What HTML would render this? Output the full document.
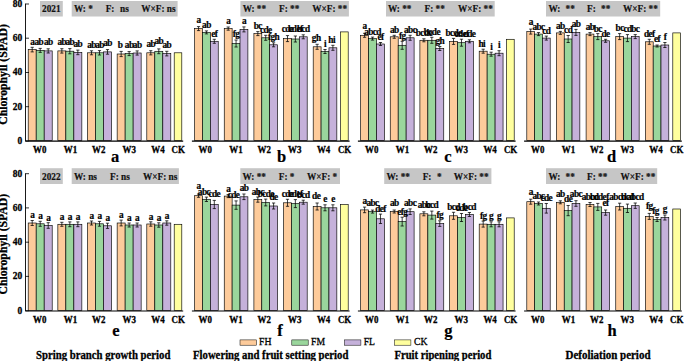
<!DOCTYPE html>
<html><head><meta charset="utf-8"><title>Chlorophyll SPAD</title>
<style>html,body{margin:0;padding:0;background:#fff;}body{width:685px;height:361px;position:relative;overflow:hidden;font-family:"Liberation Serif",serif;}</style></head>
<body>
<svg width="685" height="361" viewBox="0 0 685 361" style="position:absolute;left:0;top:0" font-family="'Liberation Serif', serif">
<rect x="0" y="0" width="685" height="361" fill="#ffffff"/>
<rect x="40.0" y="1.0" width="22.8" height="15.5" fill="#c6c6c6"/>
<text transform="translate(42.00 12.25) scale(0.9 1)" font-size="10.3" font-weight="bold" text-anchor="start" fill="#111" stroke="#111" stroke-width="0.2">2021</text>
<rect x="71.7" y="1.0" width="105.9" height="15.5" fill="#c6c6c6"/>
<text transform="translate(74.00 12.25) scale(0.9 1)" font-size="10.3" font-weight="bold" text-anchor="start" fill="#111" stroke="#111" stroke-width="0.2">W: *</text>
<text transform="translate(105.70 12.25) scale(0.9 1)" font-size="10.3" font-weight="bold" text-anchor="start" fill="#111" stroke="#111" stroke-width="0.2">F:</text>
<text transform="translate(120.00 12.25) scale(0.9 1)" font-size="10.3" font-weight="bold" text-anchor="start" fill="#111" stroke="#111" stroke-width="0.2">ns</text>
<text transform="translate(141.20 12.25) scale(0.9 1)" font-size="10.3" font-weight="bold" text-anchor="start" fill="#111" stroke="#111" stroke-width="0.2">W×F: ns</text>
<rect x="28.20" y="49.6" width="8.00" height="91.0" fill="#FDCB9B" stroke="#000" stroke-width="0.65"/>
<rect x="36.20" y="50.4" width="8.00" height="90.2" fill="#9AD69C" stroke="#000" stroke-width="0.65"/>
<rect x="44.20" y="50.9" width="8.00" height="89.7" fill="#C5B1DA" stroke="#000" stroke-width="0.65"/>
<rect x="57.85" y="50.9" width="8.00" height="89.7" fill="#FDCB9B" stroke="#000" stroke-width="0.65"/>
<rect x="65.85" y="51.2" width="8.00" height="89.4" fill="#9AD69C" stroke="#000" stroke-width="0.65"/>
<rect x="73.85" y="52.4" width="8.00" height="88.2" fill="#C5B1DA" stroke="#000" stroke-width="0.65"/>
<rect x="87.50" y="52.8" width="8.00" height="87.8" fill="#FDCB9B" stroke="#000" stroke-width="0.65"/>
<rect x="95.50" y="52.8" width="8.00" height="87.8" fill="#9AD69C" stroke="#000" stroke-width="0.65"/>
<rect x="103.50" y="51.9" width="8.00" height="88.7" fill="#C5B1DA" stroke="#000" stroke-width="0.65"/>
<rect x="117.15" y="54.0" width="8.00" height="86.6" fill="#FDCB9B" stroke="#000" stroke-width="0.65"/>
<rect x="125.15" y="53.6" width="8.00" height="87.0" fill="#9AD69C" stroke="#000" stroke-width="0.65"/>
<rect x="133.15" y="53.0" width="8.00" height="87.6" fill="#C5B1DA" stroke="#000" stroke-width="0.65"/>
<rect x="146.80" y="52.8" width="8.00" height="87.8" fill="#FDCB9B" stroke="#000" stroke-width="0.65"/>
<rect x="154.80" y="51.3" width="8.00" height="89.3" fill="#9AD69C" stroke="#000" stroke-width="0.65"/>
<rect x="162.80" y="53.6" width="8.00" height="87.0" fill="#C5B1DA" stroke="#000" stroke-width="0.65"/>
<rect x="174.20" y="52.8" width="7.60" height="87.8" fill="#FFFF9E" stroke="#000" stroke-width="0.65"/>
<path d="M32.20 47.3V51.9M30.60 47.3H33.80M30.60 51.9H33.80" stroke="#000" stroke-width="0.75" fill="none"/>
<text transform="translate(32.20 44.60) scale(1.0 1)" font-size="9.3" font-weight="bold" text-anchor="middle" fill="#000" letter-spacing="-0.6" stroke="#000" stroke-width="0.2">a</text>
<path d="M40.20 48.4V52.4M38.60 48.4H41.80M38.60 52.4H41.80" stroke="#000" stroke-width="0.75" fill="none"/>
<text transform="translate(38.70 44.60) scale(1.0 1)" font-size="9.3" font-weight="bold" text-anchor="middle" fill="#000" letter-spacing="-0.6" stroke="#000" stroke-width="0.2">ab</text>
<path d="M48.20 48.8V53.0M46.60 48.8H49.80M46.60 53.0H49.80" stroke="#000" stroke-width="0.75" fill="none"/>
<text transform="translate(48.20 44.60) scale(1.0 1)" font-size="9.3" font-weight="bold" text-anchor="middle" fill="#000" letter-spacing="-0.6" stroke="#000" stroke-width="0.2">ab</text>
<path d="M61.85 48.7V53.1M60.25 48.7H63.45M60.25 53.1H63.45" stroke="#000" stroke-width="0.75" fill="none"/>
<text transform="translate(61.85 45.40) scale(1.0 1)" font-size="9.3" font-weight="bold" text-anchor="middle" fill="#000" letter-spacing="-0.6" stroke="#000" stroke-width="0.2">ab</text>
<path d="M69.85 48.6V53.8M68.25 48.6H71.45M68.25 53.8H71.45" stroke="#000" stroke-width="0.75" fill="none"/>
<text transform="translate(69.85 45.40) scale(1.0 1)" font-size="9.3" font-weight="bold" text-anchor="middle" fill="#000" letter-spacing="-0.6" stroke="#000" stroke-width="0.2">ab</text>
<path d="M77.85 50.1V54.7M76.25 50.1H79.45M76.25 54.7H79.45" stroke="#000" stroke-width="0.75" fill="none"/>
<text transform="translate(77.85 47.00) scale(1.0 1)" font-size="9.3" font-weight="bold" text-anchor="middle" fill="#000" letter-spacing="-0.6" stroke="#000" stroke-width="0.2">ab</text>
<path d="M91.50 50.8V54.8M89.90 50.8H93.10M89.90 54.8H93.10" stroke="#000" stroke-width="0.75" fill="none"/>
<text transform="translate(91.50 47.80) scale(1.0 1)" font-size="9.3" font-weight="bold" text-anchor="middle" fill="#000" letter-spacing="-0.6" stroke="#000" stroke-width="0.2">ab</text>
<path d="M99.50 50.6V55.0M97.90 50.6H101.10M97.90 55.0H101.10" stroke="#000" stroke-width="0.75" fill="none"/>
<text transform="translate(99.50 47.80) scale(1.0 1)" font-size="9.3" font-weight="bold" text-anchor="middle" fill="#000" letter-spacing="-0.6" stroke="#000" stroke-width="0.2">ab</text>
<path d="M107.50 49.6V54.2M105.90 49.6H109.10M105.90 54.2H109.10" stroke="#000" stroke-width="0.75" fill="none"/>
<text transform="translate(107.50 46.00) scale(1.0 1)" font-size="9.3" font-weight="bold" text-anchor="middle" fill="#000" letter-spacing="-0.6" stroke="#000" stroke-width="0.2">ab</text>
<path d="M121.15 51.4V56.6M119.55 51.4H122.75M119.55 56.6H122.75" stroke="#000" stroke-width="0.75" fill="none"/>
<text transform="translate(120.15 47.80) scale(1.0 1)" font-size="9.3" font-weight="bold" text-anchor="middle" fill="#000" letter-spacing="-0.6" stroke="#000" stroke-width="0.2">b</text>
<path d="M129.15 51.6V55.6M127.55 51.6H130.75M127.55 55.6H130.75" stroke="#000" stroke-width="0.75" fill="none"/>
<text transform="translate(129.15 47.80) scale(1.0 1)" font-size="9.3" font-weight="bold" text-anchor="middle" fill="#000" letter-spacing="-0.6" stroke="#000" stroke-width="0.2">ab</text>
<path d="M137.15 50.9V55.1M135.55 50.9H138.75M135.55 55.1H138.75" stroke="#000" stroke-width="0.75" fill="none"/>
<text transform="translate(137.15 47.80) scale(1.0 1)" font-size="9.3" font-weight="bold" text-anchor="middle" fill="#000" letter-spacing="-0.6" stroke="#000" stroke-width="0.2">ab</text>
<path d="M150.80 50.7V54.9M149.20 50.7H152.40M149.20 54.9H152.40" stroke="#000" stroke-width="0.75" fill="none"/>
<text transform="translate(150.80 47.20) scale(1.0 1)" font-size="9.3" font-weight="bold" text-anchor="middle" fill="#000" letter-spacing="-0.6" stroke="#000" stroke-width="0.2">ab</text>
<path d="M158.80 48.9V53.7M157.20 48.9H160.40M157.20 53.7H160.40" stroke="#000" stroke-width="0.75" fill="none"/>
<text transform="translate(158.80 44.30) scale(1.0 1)" font-size="9.3" font-weight="bold" text-anchor="middle" fill="#000" letter-spacing="-0.6" stroke="#000" stroke-width="0.2">ab</text>
<path d="M166.80 51.3V55.9M165.20 51.3H168.40M165.20 55.9H168.40" stroke="#000" stroke-width="0.75" fill="none"/>
<text transform="translate(166.80 47.80) scale(1.0 1)" font-size="9.3" font-weight="bold" text-anchor="middle" fill="#000" letter-spacing="-0.6" stroke="#000" stroke-width="0.2">ab</text>
<line x1="25.5" y1="141.1" x2="183.2" y2="141.1" stroke="#000" stroke-width="1.05"/>
<text transform="translate(39.75 152.70) scale(0.91 1)" font-size="9.8" font-weight="bold" text-anchor="middle" fill="#000" stroke="#000" stroke-width="0.3">W0</text>
<text transform="translate(70.40 152.70) scale(0.91 1)" font-size="9.8" font-weight="bold" text-anchor="middle" fill="#000" stroke="#000" stroke-width="0.3">W1</text>
<text transform="translate(98.70 152.70) scale(0.91 1)" font-size="9.8" font-weight="bold" text-anchor="middle" fill="#000" stroke="#000" stroke-width="0.3">W2</text>
<text transform="translate(129.25 152.70) scale(0.91 1)" font-size="9.8" font-weight="bold" text-anchor="middle" fill="#000" stroke="#000" stroke-width="0.3">W3</text>
<text transform="translate(158.05 152.70) scale(0.91 1)" font-size="9.8" font-weight="bold" text-anchor="middle" fill="#000" stroke="#000" stroke-width="0.3">W4</text>
<text transform="translate(178.20 152.70) scale(0.91 1)" font-size="9.8" font-weight="bold" text-anchor="middle" fill="#000" stroke="#000" stroke-width="0.3">CK</text>
<text x="115.0" y="162.4" font-size="16.5" font-weight="bold" text-anchor="middle" fill="#000" stroke="#000" stroke-width="0.2">a</text>
<rect x="240.4" y="1.0" width="108.5" height="15.5" fill="#c6c6c6"/>
<text transform="translate(242.70 12.25) scale(0.9 1)" font-size="10.3" font-weight="bold" text-anchor="start" fill="#111" stroke="#111" stroke-width="0.2">W: **</text>
<text transform="translate(279.00 12.25) scale(0.9 1)" font-size="10.3" font-weight="bold" text-anchor="start" fill="#111" stroke="#111" stroke-width="0.2">F: **</text>
<text transform="translate(312.20 12.25) scale(0.9 1)" font-size="10.3" font-weight="bold" text-anchor="start" fill="#111" stroke="#111" stroke-width="0.2">W×F: **</text>
<rect x="194.60" y="28.6" width="7.88" height="112.0" fill="#FDCB9B" stroke="#000" stroke-width="0.65"/>
<rect x="202.48" y="32.4" width="7.88" height="108.2" fill="#9AD69C" stroke="#000" stroke-width="0.65"/>
<rect x="210.36" y="41.3" width="7.88" height="99.3" fill="#C5B1DA" stroke="#000" stroke-width="0.65"/>
<rect x="224.25" y="28.6" width="7.88" height="112.0" fill="#FDCB9B" stroke="#000" stroke-width="0.65"/>
<rect x="232.13" y="43.5" width="7.88" height="97.1" fill="#9AD69C" stroke="#000" stroke-width="0.65"/>
<rect x="240.01" y="29.4" width="7.88" height="111.2" fill="#C5B1DA" stroke="#000" stroke-width="0.65"/>
<rect x="253.90" y="33.6" width="7.88" height="107.0" fill="#FDCB9B" stroke="#000" stroke-width="0.65"/>
<rect x="261.78" y="37.8" width="7.88" height="102.8" fill="#9AD69C" stroke="#000" stroke-width="0.65"/>
<rect x="269.66" y="44.8" width="7.88" height="95.8" fill="#C5B1DA" stroke="#000" stroke-width="0.65"/>
<rect x="283.55" y="38.6" width="7.88" height="102.0" fill="#FDCB9B" stroke="#000" stroke-width="0.65"/>
<rect x="291.43" y="39.0" width="7.88" height="101.6" fill="#9AD69C" stroke="#000" stroke-width="0.65"/>
<rect x="299.31" y="36.8" width="7.88" height="103.8" fill="#C5B1DA" stroke="#000" stroke-width="0.65"/>
<rect x="313.20" y="46.8" width="7.88" height="93.8" fill="#FDCB9B" stroke="#000" stroke-width="0.65"/>
<rect x="321.08" y="51.5" width="7.88" height="89.1" fill="#9AD69C" stroke="#000" stroke-width="0.65"/>
<rect x="328.96" y="47.8" width="7.88" height="92.8" fill="#C5B1DA" stroke="#000" stroke-width="0.65"/>
<rect x="340.60" y="31.9" width="7.60" height="108.7" fill="#FFFF9E" stroke="#000" stroke-width="0.65"/>
<path d="M198.54 26.6V30.6M196.94 26.6H200.14M196.94 30.6H200.14" stroke="#000" stroke-width="0.75" fill="none"/>
<text transform="translate(198.54 22.80) scale(1.0 1)" font-size="9.3" font-weight="bold" text-anchor="middle" fill="#000" letter-spacing="-0.6" stroke="#000" stroke-width="0.2">a</text>
<path d="M206.42 30.9V33.9M204.82 30.9H208.02M204.82 33.9H208.02" stroke="#000" stroke-width="0.75" fill="none"/>
<text transform="translate(206.42 28.30) scale(1.0 1)" font-size="9.3" font-weight="bold" text-anchor="middle" fill="#000" letter-spacing="-0.6" stroke="#000" stroke-width="0.2">ab</text>
<path d="M214.30 39.3V43.3M212.70 39.3H215.90M212.70 43.3H215.90" stroke="#000" stroke-width="0.75" fill="none"/>
<text transform="translate(214.30 36.70) scale(1.0 1)" font-size="9.3" font-weight="bold" text-anchor="middle" fill="#000" letter-spacing="-0.6" stroke="#000" stroke-width="0.2">ef</text>
<path d="M228.19 27.0V30.2M226.59 27.0H229.79M226.59 30.2H229.79" stroke="#000" stroke-width="0.75" fill="none"/>
<text transform="translate(228.19 24.40) scale(1.0 1)" font-size="9.3" font-weight="bold" text-anchor="middle" fill="#000" letter-spacing="-0.6" stroke="#000" stroke-width="0.2">a</text>
<path d="M236.07 40.0V47.0M234.47 40.0H237.67M234.47 47.0H237.67" stroke="#000" stroke-width="0.75" fill="none"/>
<text transform="translate(236.07 37.40) scale(1.0 1)" font-size="9.3" font-weight="bold" text-anchor="middle" fill="#000" letter-spacing="-0.6" stroke="#000" stroke-width="0.2">fg</text>
<path d="M243.95 26.9V31.9M242.35 26.9H245.55M242.35 31.9H245.55" stroke="#000" stroke-width="0.75" fill="none"/>
<text transform="translate(243.95 24.30) scale(1.0 1)" font-size="9.3" font-weight="bold" text-anchor="middle" fill="#000" letter-spacing="-0.6" stroke="#000" stroke-width="0.2">a</text>
<path d="M257.84 31.6V35.6M256.24 31.6H259.44M256.24 35.6H259.44" stroke="#000" stroke-width="0.75" fill="none"/>
<text transform="translate(257.84 29.00) scale(1.0 1)" font-size="9.3" font-weight="bold" text-anchor="middle" fill="#000" letter-spacing="-0.6" stroke="#000" stroke-width="0.2">bc</text>
<path d="M265.72 35.3V40.3M264.12 35.3H267.32M264.12 40.3H267.32" stroke="#000" stroke-width="0.75" fill="none"/>
<text transform="translate(265.72 32.70) scale(1.0 1)" font-size="9.3" font-weight="bold" text-anchor="middle" fill="#000" letter-spacing="-0.6" stroke="#000" stroke-width="0.2">cde</text>
<path d="M273.60 42.8V46.8M272.00 42.8H275.20M272.00 46.8H275.20" stroke="#000" stroke-width="0.75" fill="none"/>
<text transform="translate(273.60 40.20) scale(1.0 1)" font-size="9.3" font-weight="bold" text-anchor="middle" fill="#000" letter-spacing="-0.6" stroke="#000" stroke-width="0.2">fgh</text>
<path d="M287.49 35.6V41.6M285.89 35.6H289.09M285.89 41.6H289.09" stroke="#000" stroke-width="0.75" fill="none"/>
<text transform="translate(287.49 31.50) scale(1.0 1)" font-size="9.3" font-weight="bold" text-anchor="middle" fill="#000" letter-spacing="-0.6" stroke="#000" stroke-width="0.2">cde</text>
<path d="M295.37 36.0V42.0M293.77 36.0H296.97M293.77 42.0H296.97" stroke="#000" stroke-width="0.75" fill="none"/>
<text transform="translate(295.37 31.50) scale(1.0 1)" font-size="9.3" font-weight="bold" text-anchor="middle" fill="#000" letter-spacing="-0.6" stroke="#000" stroke-width="0.2">cdef</text>
<path d="M303.25 34.8V38.8M301.65 34.8H304.85M301.65 38.8H304.85" stroke="#000" stroke-width="0.75" fill="none"/>
<text transform="translate(303.25 31.50) scale(1.0 1)" font-size="9.3" font-weight="bold" text-anchor="middle" fill="#000" letter-spacing="-0.6" stroke="#000" stroke-width="0.2">bcd</text>
<path d="M317.14 44.3V49.3M315.54 44.3H318.74M315.54 49.3H318.74" stroke="#000" stroke-width="0.75" fill="none"/>
<text transform="translate(316.14 40.50) scale(1.0 1)" font-size="9.3" font-weight="bold" text-anchor="middle" fill="#000" letter-spacing="-0.6" stroke="#000" stroke-width="0.2">gh</text>
<path d="M325.02 49.5V53.5M323.42 49.5H326.62M323.42 53.5H326.62" stroke="#000" stroke-width="0.75" fill="none"/>
<text transform="translate(325.02 46.90) scale(1.0 1)" font-size="9.3" font-weight="bold" text-anchor="middle" fill="#000" letter-spacing="-0.6" stroke="#000" stroke-width="0.2">i</text>
<path d="M332.90 45.3V50.3M331.30 45.3H334.50M331.30 50.3H334.50" stroke="#000" stroke-width="0.75" fill="none"/>
<text transform="translate(331.60 42.70) scale(1.0 1)" font-size="9.3" font-weight="bold" text-anchor="middle" fill="#000" letter-spacing="-0.6" stroke="#000" stroke-width="0.2">hi</text>
<line x1="191.9" y1="141.1" x2="349.6" y2="141.1" stroke="#000" stroke-width="1.05"/>
<text transform="translate(205.27 152.70) scale(0.91 1)" font-size="9.8" font-weight="bold" text-anchor="middle" fill="#000" stroke="#000" stroke-width="0.3">W0</text>
<text transform="translate(235.92 152.70) scale(0.91 1)" font-size="9.8" font-weight="bold" text-anchor="middle" fill="#000" stroke="#000" stroke-width="0.3">W1</text>
<text transform="translate(264.22 152.70) scale(0.91 1)" font-size="9.8" font-weight="bold" text-anchor="middle" fill="#000" stroke="#000" stroke-width="0.3">W2</text>
<text transform="translate(294.77 152.70) scale(0.91 1)" font-size="9.8" font-weight="bold" text-anchor="middle" fill="#000" stroke="#000" stroke-width="0.3">W3</text>
<text transform="translate(323.57 152.70) scale(0.91 1)" font-size="9.8" font-weight="bold" text-anchor="middle" fill="#000" stroke="#000" stroke-width="0.3">W4</text>
<text transform="translate(344.60 152.70) scale(0.91 1)" font-size="9.8" font-weight="bold" text-anchor="middle" fill="#000" stroke="#000" stroke-width="0.3">CK</text>
<text x="281.6" y="162.4" font-size="16.5" font-weight="bold" text-anchor="middle" fill="#000" stroke="#000" stroke-width="0.2">b</text>
<rect x="386.0" y="1.0" width="108.7" height="15.5" fill="#c6c6c6"/>
<text transform="translate(388.00 12.25) scale(0.9 1)" font-size="10.3" font-weight="bold" text-anchor="start" fill="#111" stroke="#111" stroke-width="0.2">W: **</text>
<text transform="translate(424.50 12.25) scale(0.9 1)" font-size="10.3" font-weight="bold" text-anchor="start" fill="#111" stroke="#111" stroke-width="0.2">F: **</text>
<text transform="translate(458.00 12.25) scale(0.9 1)" font-size="10.3" font-weight="bold" text-anchor="start" fill="#111" stroke="#111" stroke-width="0.2">W×F: **</text>
<rect x="360.60" y="35.3" width="7.95" height="105.3" fill="#FDCB9B" stroke="#000" stroke-width="0.65"/>
<rect x="368.55" y="38.6" width="7.95" height="102.0" fill="#9AD69C" stroke="#000" stroke-width="0.65"/>
<rect x="376.50" y="44.0" width="7.95" height="96.6" fill="#C5B1DA" stroke="#000" stroke-width="0.65"/>
<rect x="390.25" y="36.8" width="7.95" height="103.8" fill="#FDCB9B" stroke="#000" stroke-width="0.65"/>
<rect x="398.20" y="45.3" width="7.95" height="95.3" fill="#9AD69C" stroke="#000" stroke-width="0.65"/>
<rect x="406.15" y="37.8" width="7.95" height="102.8" fill="#C5B1DA" stroke="#000" stroke-width="0.65"/>
<rect x="419.90" y="40.3" width="7.95" height="100.3" fill="#FDCB9B" stroke="#000" stroke-width="0.65"/>
<rect x="427.85" y="40.3" width="7.95" height="100.3" fill="#9AD69C" stroke="#000" stroke-width="0.65"/>
<rect x="435.80" y="48.5" width="7.95" height="92.1" fill="#C5B1DA" stroke="#000" stroke-width="0.65"/>
<rect x="449.55" y="41.4" width="7.95" height="99.2" fill="#FDCB9B" stroke="#000" stroke-width="0.65"/>
<rect x="457.50" y="42.7" width="7.95" height="97.9" fill="#9AD69C" stroke="#000" stroke-width="0.65"/>
<rect x="465.45" y="41.3" width="7.95" height="99.3" fill="#C5B1DA" stroke="#000" stroke-width="0.65"/>
<rect x="479.20" y="51.2" width="7.95" height="89.4" fill="#FDCB9B" stroke="#000" stroke-width="0.65"/>
<rect x="487.15" y="54.2" width="7.95" height="86.4" fill="#9AD69C" stroke="#000" stroke-width="0.65"/>
<rect x="495.10" y="53.2" width="7.95" height="87.4" fill="#C5B1DA" stroke="#000" stroke-width="0.65"/>
<rect x="506.60" y="39.3" width="7.60" height="101.3" fill="#FFFF9E" stroke="#000" stroke-width="0.65"/>
<path d="M364.58 33.3V37.3M362.98 33.3H366.18M362.98 37.3H366.18" stroke="#000" stroke-width="0.75" fill="none"/>
<text transform="translate(364.58 28.60) scale(1.0 1)" font-size="9.3" font-weight="bold" text-anchor="middle" fill="#000" letter-spacing="-0.6" stroke="#000" stroke-width="0.2">a</text>
<path d="M372.53 37.1V40.1M370.93 37.1H374.13M370.93 40.1H374.13" stroke="#000" stroke-width="0.75" fill="none"/>
<text transform="translate(372.53 34.50) scale(1.0 1)" font-size="9.3" font-weight="bold" text-anchor="middle" fill="#000" letter-spacing="-0.6" stroke="#000" stroke-width="0.2">abcd</text>
<path d="M380.48 42.5V45.5M378.88 42.5H382.08M378.88 45.5H382.08" stroke="#000" stroke-width="0.75" fill="none"/>
<text transform="translate(380.48 39.80) scale(1.0 1)" font-size="9.3" font-weight="bold" text-anchor="middle" fill="#000" letter-spacing="-0.6" stroke="#000" stroke-width="0.2">ef</text>
<path d="M394.23 35.3V38.3M392.62 35.3H395.83M392.62 38.3H395.83" stroke="#000" stroke-width="0.75" fill="none"/>
<text transform="translate(394.23 32.70) scale(1.0 1)" font-size="9.3" font-weight="bold" text-anchor="middle" fill="#000" letter-spacing="-0.6" stroke="#000" stroke-width="0.2">ab</text>
<path d="M402.18 41.3V49.3M400.57 41.3H403.78M400.57 49.3H403.78" stroke="#000" stroke-width="0.75" fill="none"/>
<text transform="translate(402.18 38.70) scale(1.0 1)" font-size="9.3" font-weight="bold" text-anchor="middle" fill="#000" letter-spacing="-0.6" stroke="#000" stroke-width="0.2">fg</text>
<path d="M410.12 35.3V40.3M408.52 35.3H411.73M408.52 40.3H411.73" stroke="#000" stroke-width="0.75" fill="none"/>
<text transform="translate(410.12 32.70) scale(1.0 1)" font-size="9.3" font-weight="bold" text-anchor="middle" fill="#000" letter-spacing="-0.6" stroke="#000" stroke-width="0.2">abc</text>
<path d="M423.88 38.8V41.8M422.28 38.8H425.48M422.28 41.8H425.48" stroke="#000" stroke-width="0.75" fill="none"/>
<text transform="translate(423.88 36.20) scale(1.0 1)" font-size="9.3" font-weight="bold" text-anchor="middle" fill="#000" letter-spacing="-0.6" stroke="#000" stroke-width="0.2">bcde</text>
<path d="M431.83 37.3V43.3M430.23 37.3H433.43M430.23 43.3H433.43" stroke="#000" stroke-width="0.75" fill="none"/>
<text transform="translate(431.83 34.70) scale(1.0 1)" font-size="9.3" font-weight="bold" text-anchor="middle" fill="#000" letter-spacing="-0.6" stroke="#000" stroke-width="0.2">bcde</text>
<path d="M439.78 46.5V50.5M438.18 46.5H441.38M438.18 50.5H441.38" stroke="#000" stroke-width="0.75" fill="none"/>
<text transform="translate(439.78 43.90) scale(1.0 1)" font-size="9.3" font-weight="bold" text-anchor="middle" fill="#000" letter-spacing="-0.6" stroke="#000" stroke-width="0.2">gh</text>
<path d="M453.53 38.4V44.4M451.93 38.4H455.13M451.93 44.4H455.13" stroke="#000" stroke-width="0.75" fill="none"/>
<text transform="translate(453.53 35.80) scale(1.0 1)" font-size="9.3" font-weight="bold" text-anchor="middle" fill="#000" letter-spacing="-0.6" stroke="#000" stroke-width="0.2">bcde</text>
<path d="M461.48 39.2V46.2M459.88 39.2H463.08M459.88 46.2H463.08" stroke="#000" stroke-width="0.75" fill="none"/>
<text transform="translate(461.48 36.60) scale(1.0 1)" font-size="9.3" font-weight="bold" text-anchor="middle" fill="#000" letter-spacing="-0.6" stroke="#000" stroke-width="0.2">cdef</text>
<path d="M469.43 39.8V42.8M467.82 39.8H471.03M467.82 42.8H471.03" stroke="#000" stroke-width="0.75" fill="none"/>
<text transform="translate(469.43 37.20) scale(1.0 1)" font-size="9.3" font-weight="bold" text-anchor="middle" fill="#000" letter-spacing="-0.6" stroke="#000" stroke-width="0.2">cde</text>
<path d="M483.18 49.2V53.2M481.58 49.2H484.78M481.58 53.2H484.78" stroke="#000" stroke-width="0.75" fill="none"/>
<text transform="translate(481.68 46.60) scale(1.0 1)" font-size="9.3" font-weight="bold" text-anchor="middle" fill="#000" letter-spacing="-0.6" stroke="#000" stroke-width="0.2">hi</text>
<path d="M491.13 52.2V56.2M489.53 52.2H492.73M489.53 56.2H492.73" stroke="#000" stroke-width="0.75" fill="none"/>
<text transform="translate(491.13 49.60) scale(1.0 1)" font-size="9.3" font-weight="bold" text-anchor="middle" fill="#000" letter-spacing="-0.6" stroke="#000" stroke-width="0.2">i</text>
<path d="M499.08 50.7V55.7M497.48 50.7H500.68M497.48 55.7H500.68" stroke="#000" stroke-width="0.75" fill="none"/>
<text transform="translate(499.08 48.10) scale(1.0 1)" font-size="9.3" font-weight="bold" text-anchor="middle" fill="#000" letter-spacing="-0.6" stroke="#000" stroke-width="0.2">i</text>
<line x1="357.9" y1="141.1" x2="515.6" y2="141.1" stroke="#000" stroke-width="1.05"/>
<text transform="translate(371.78 152.70) scale(0.91 1)" font-size="9.8" font-weight="bold" text-anchor="middle" fill="#000" stroke="#000" stroke-width="0.3">W0</text>
<text transform="translate(402.43 152.70) scale(0.91 1)" font-size="9.8" font-weight="bold" text-anchor="middle" fill="#000" stroke="#000" stroke-width="0.3">W1</text>
<text transform="translate(430.73 152.70) scale(0.91 1)" font-size="9.8" font-weight="bold" text-anchor="middle" fill="#000" stroke="#000" stroke-width="0.3">W2</text>
<text transform="translate(461.28 152.70) scale(0.91 1)" font-size="9.8" font-weight="bold" text-anchor="middle" fill="#000" stroke="#000" stroke-width="0.3">W3</text>
<text transform="translate(490.08 152.70) scale(0.91 1)" font-size="9.8" font-weight="bold" text-anchor="middle" fill="#000" stroke="#000" stroke-width="0.3">W4</text>
<text transform="translate(510.60 152.70) scale(0.91 1)" font-size="9.8" font-weight="bold" text-anchor="middle" fill="#000" stroke="#000" stroke-width="0.3">CK</text>
<text x="448.0" y="162.4" font-size="16.5" font-weight="bold" text-anchor="middle" fill="#000" stroke="#000" stroke-width="0.2">c</text>
<rect x="546.0" y="1.0" width="114.2" height="15.5" fill="#c6c6c6"/>
<text transform="translate(548.50 12.25) scale(0.9 1)" font-size="10.3" font-weight="bold" text-anchor="start" fill="#111" stroke="#111" stroke-width="0.2">W:</text>
<text transform="translate(565.50 12.25) scale(0.9 1)" font-size="10.3" font-weight="bold" text-anchor="start" fill="#111" stroke="#111" stroke-width="0.2">**</text>
<text transform="translate(587.00 12.25) scale(0.9 1)" font-size="10.3" font-weight="bold" text-anchor="start" fill="#111" stroke="#111" stroke-width="0.2">F:</text>
<text transform="translate(601.00 12.25) scale(0.9 1)" font-size="10.3" font-weight="bold" text-anchor="start" fill="#111" stroke="#111" stroke-width="0.2">**</text>
<text transform="translate(623.00 12.25) scale(0.9 1)" font-size="10.3" font-weight="bold" text-anchor="start" fill="#111" stroke="#111" stroke-width="0.2">W×F: **</text>
<rect x="526.80" y="31.6" width="7.80" height="109.0" fill="#FDCB9B" stroke="#000" stroke-width="0.65"/>
<rect x="534.60" y="34.1" width="7.80" height="106.5" fill="#9AD69C" stroke="#000" stroke-width="0.65"/>
<rect x="542.40" y="38.1" width="7.80" height="102.5" fill="#C5B1DA" stroke="#000" stroke-width="0.65"/>
<rect x="556.45" y="32.9" width="7.80" height="107.7" fill="#FDCB9B" stroke="#000" stroke-width="0.65"/>
<rect x="564.25" y="39.0" width="7.80" height="101.6" fill="#9AD69C" stroke="#000" stroke-width="0.65"/>
<rect x="572.05" y="32.4" width="7.80" height="108.2" fill="#C5B1DA" stroke="#000" stroke-width="0.65"/>
<rect x="586.10" y="34.1" width="7.80" height="106.5" fill="#FDCB9B" stroke="#000" stroke-width="0.65"/>
<rect x="593.90" y="36.6" width="7.80" height="104.0" fill="#9AD69C" stroke="#000" stroke-width="0.65"/>
<rect x="601.70" y="40.8" width="7.80" height="99.8" fill="#C5B1DA" stroke="#000" stroke-width="0.65"/>
<rect x="615.75" y="36.6" width="7.80" height="104.0" fill="#FDCB9B" stroke="#000" stroke-width="0.65"/>
<rect x="623.55" y="38.1" width="7.80" height="102.5" fill="#9AD69C" stroke="#000" stroke-width="0.65"/>
<rect x="631.35" y="36.6" width="7.80" height="104.0" fill="#C5B1DA" stroke="#000" stroke-width="0.65"/>
<rect x="645.40" y="41.8" width="7.80" height="98.8" fill="#FDCB9B" stroke="#000" stroke-width="0.65"/>
<rect x="653.20" y="46.0" width="7.80" height="94.6" fill="#9AD69C" stroke="#000" stroke-width="0.65"/>
<rect x="661.00" y="45.0" width="7.80" height="95.6" fill="#C5B1DA" stroke="#000" stroke-width="0.65"/>
<rect x="672.80" y="32.9" width="7.60" height="107.7" fill="#FFFF9E" stroke="#000" stroke-width="0.65"/>
<path d="M530.70 29.1V34.1M529.10 29.1H532.30M529.10 34.1H532.30" stroke="#000" stroke-width="0.75" fill="none"/>
<text transform="translate(530.70 25.40) scale(1.0 1)" font-size="9.3" font-weight="bold" text-anchor="middle" fill="#000" letter-spacing="-0.6" stroke="#000" stroke-width="0.2">a</text>
<path d="M538.50 32.6V35.6M536.90 32.6H540.10M536.90 35.6H540.10" stroke="#000" stroke-width="0.75" fill="none"/>
<text transform="translate(538.50 30.00) scale(1.0 1)" font-size="9.3" font-weight="bold" text-anchor="middle" fill="#000" letter-spacing="-0.6" stroke="#000" stroke-width="0.2">abc</text>
<path d="M546.30 36.1V40.1M544.70 36.1H547.90M544.70 40.1H547.90" stroke="#000" stroke-width="0.75" fill="none"/>
<text transform="translate(546.30 33.50) scale(1.0 1)" font-size="9.3" font-weight="bold" text-anchor="middle" fill="#000" letter-spacing="-0.6" stroke="#000" stroke-width="0.2">cd</text>
<path d="M560.35 31.4V34.4M558.75 31.4H561.95M558.75 34.4H561.95" stroke="#000" stroke-width="0.75" fill="none"/>
<text transform="translate(560.35 28.80) scale(1.0 1)" font-size="9.3" font-weight="bold" text-anchor="middle" fill="#000" letter-spacing="-0.6" stroke="#000" stroke-width="0.2">ab</text>
<path d="M568.15 35.5V42.5M566.55 35.5H569.75M566.55 42.5H569.75" stroke="#000" stroke-width="0.75" fill="none"/>
<text transform="translate(568.15 32.90) scale(1.0 1)" font-size="9.3" font-weight="bold" text-anchor="middle" fill="#000" letter-spacing="-0.6" stroke="#000" stroke-width="0.2">cd</text>
<path d="M575.95 29.4V35.4M574.35 29.4H577.55M574.35 35.4H577.55" stroke="#000" stroke-width="0.75" fill="none"/>
<text transform="translate(575.95 26.80) scale(1.0 1)" font-size="9.3" font-weight="bold" text-anchor="middle" fill="#000" letter-spacing="-0.6" stroke="#000" stroke-width="0.2">ab</text>
<path d="M590.00 32.6V35.6M588.40 32.6H591.60M588.40 35.6H591.60" stroke="#000" stroke-width="0.75" fill="none"/>
<text transform="translate(590.00 30.00) scale(1.0 1)" font-size="9.3" font-weight="bold" text-anchor="middle" fill="#000" letter-spacing="-0.6" stroke="#000" stroke-width="0.2">ab</text>
<path d="M597.80 33.6V39.6M596.20 33.6H599.40M596.20 39.6H599.40" stroke="#000" stroke-width="0.75" fill="none"/>
<text transform="translate(597.80 31.90) scale(1.0 1)" font-size="9.3" font-weight="bold" text-anchor="middle" fill="#000" letter-spacing="-0.6" stroke="#000" stroke-width="0.2">bc</text>
<path d="M605.60 39.3V42.3M604.00 39.3H607.20M604.00 42.3H607.20" stroke="#000" stroke-width="0.75" fill="none"/>
<text transform="translate(605.60 36.70) scale(1.0 1)" font-size="9.3" font-weight="bold" text-anchor="middle" fill="#000" letter-spacing="-0.6" stroke="#000" stroke-width="0.2">de</text>
<path d="M619.65 33.6V39.6M618.05 33.6H621.25M618.05 39.6H621.25" stroke="#000" stroke-width="0.75" fill="none"/>
<text transform="translate(619.65 31.00) scale(1.0 1)" font-size="9.3" font-weight="bold" text-anchor="middle" fill="#000" letter-spacing="-0.6" stroke="#000" stroke-width="0.2">bc</text>
<path d="M627.45 34.6V41.6M625.85 34.6H629.05M625.85 41.6H629.05" stroke="#000" stroke-width="0.75" fill="none"/>
<text transform="translate(627.45 32.00) scale(1.0 1)" font-size="9.3" font-weight="bold" text-anchor="middle" fill="#000" letter-spacing="-0.6" stroke="#000" stroke-width="0.2">cd</text>
<path d="M635.25 34.6V38.6M633.65 34.6H636.85M633.65 38.6H636.85" stroke="#000" stroke-width="0.75" fill="none"/>
<text transform="translate(635.25 32.00) scale(1.0 1)" font-size="9.3" font-weight="bold" text-anchor="middle" fill="#000" letter-spacing="-0.6" stroke="#000" stroke-width="0.2">bc</text>
<path d="M649.30 39.3V44.3M647.70 39.3H650.90M647.70 44.3H650.90" stroke="#000" stroke-width="0.75" fill="none"/>
<text transform="translate(649.30 36.70) scale(1.0 1)" font-size="9.3" font-weight="bold" text-anchor="middle" fill="#000" letter-spacing="-0.6" stroke="#000" stroke-width="0.2">def</text>
<path d="M657.10 45.0V47.0M655.50 45.0H658.70M655.50 47.0H658.70" stroke="#000" stroke-width="0.75" fill="none"/>
<text transform="translate(657.10 42.40) scale(1.0 1)" font-size="9.3" font-weight="bold" text-anchor="middle" fill="#000" letter-spacing="-0.6" stroke="#000" stroke-width="0.2">ef</text>
<path d="M664.90 42.5V47.5M663.30 42.5H666.50M663.30 47.5H666.50" stroke="#000" stroke-width="0.75" fill="none"/>
<text transform="translate(664.90 39.90) scale(1.0 1)" font-size="9.3" font-weight="bold" text-anchor="middle" fill="#000" letter-spacing="-0.6" stroke="#000" stroke-width="0.2">f</text>
<line x1="524.1" y1="141.1" x2="681.8" y2="141.1" stroke="#000" stroke-width="1.05"/>
<text transform="translate(537.75 152.70) scale(0.91 1)" font-size="9.8" font-weight="bold" text-anchor="middle" fill="#000" stroke="#000" stroke-width="0.3">W0</text>
<text transform="translate(568.40 152.70) scale(0.91 1)" font-size="9.8" font-weight="bold" text-anchor="middle" fill="#000" stroke="#000" stroke-width="0.3">W1</text>
<text transform="translate(596.70 152.70) scale(0.91 1)" font-size="9.8" font-weight="bold" text-anchor="middle" fill="#000" stroke="#000" stroke-width="0.3">W2</text>
<text transform="translate(627.25 152.70) scale(0.91 1)" font-size="9.8" font-weight="bold" text-anchor="middle" fill="#000" stroke="#000" stroke-width="0.3">W3</text>
<text transform="translate(656.05 152.70) scale(0.91 1)" font-size="9.8" font-weight="bold" text-anchor="middle" fill="#000" stroke="#000" stroke-width="0.3">W4</text>
<text transform="translate(676.80 152.70) scale(0.91 1)" font-size="9.8" font-weight="bold" text-anchor="middle" fill="#000" stroke="#000" stroke-width="0.3">CK</text>
<text x="611.5" y="162.4" font-size="16.5" font-weight="bold" text-anchor="middle" fill="#000" stroke="#000" stroke-width="0.2">d</text>
<rect x="40.0" y="168.2" width="22.8" height="15.8" fill="#c6c6c6"/>
<text transform="translate(42.00 179.60) scale(0.9 1)" font-size="10.3" font-weight="bold" text-anchor="start" fill="#111" stroke="#111" stroke-width="0.2">2022</text>
<rect x="71.7" y="168.2" width="107.2" height="15.8" fill="#c6c6c6"/>
<text transform="translate(74.00 179.60) scale(0.9 1)" font-size="10.3" font-weight="bold" text-anchor="start" fill="#111" stroke="#111" stroke-width="0.2">W: ns</text>
<text transform="translate(110.00 179.60) scale(0.9 1)" font-size="10.3" font-weight="bold" text-anchor="start" fill="#111" stroke="#111" stroke-width="0.2">F: ns</text>
<text transform="translate(143.00 179.60) scale(0.9 1)" font-size="10.3" font-weight="bold" text-anchor="start" fill="#111" stroke="#111" stroke-width="0.2">W×F: ns</text>
<rect x="28.20" y="223.0" width="8.00" height="87.4" fill="#FDCB9B" stroke="#000" stroke-width="0.65"/>
<rect x="36.20" y="223.8" width="8.00" height="86.6" fill="#9AD69C" stroke="#000" stroke-width="0.65"/>
<rect x="44.20" y="225.5" width="8.00" height="84.9" fill="#C5B1DA" stroke="#000" stroke-width="0.65"/>
<rect x="57.85" y="224.3" width="8.00" height="86.1" fill="#FDCB9B" stroke="#000" stroke-width="0.65"/>
<rect x="65.85" y="224.3" width="8.00" height="86.1" fill="#9AD69C" stroke="#000" stroke-width="0.65"/>
<rect x="73.85" y="224.3" width="8.00" height="86.1" fill="#C5B1DA" stroke="#000" stroke-width="0.65"/>
<rect x="87.50" y="223.0" width="8.00" height="87.4" fill="#FDCB9B" stroke="#000" stroke-width="0.65"/>
<rect x="95.50" y="223.8" width="8.00" height="86.6" fill="#9AD69C" stroke="#000" stroke-width="0.65"/>
<rect x="103.50" y="225.8" width="8.00" height="84.6" fill="#C5B1DA" stroke="#000" stroke-width="0.65"/>
<rect x="117.15" y="223.0" width="8.00" height="87.4" fill="#FDCB9B" stroke="#000" stroke-width="0.65"/>
<rect x="125.15" y="225.0" width="8.00" height="85.4" fill="#9AD69C" stroke="#000" stroke-width="0.65"/>
<rect x="133.15" y="225.0" width="8.00" height="85.4" fill="#C5B1DA" stroke="#000" stroke-width="0.65"/>
<rect x="146.80" y="224.0" width="8.00" height="86.4" fill="#FDCB9B" stroke="#000" stroke-width="0.65"/>
<rect x="154.80" y="225.0" width="8.00" height="85.4" fill="#9AD69C" stroke="#000" stroke-width="0.65"/>
<rect x="162.80" y="223.0" width="8.00" height="87.4" fill="#C5B1DA" stroke="#000" stroke-width="0.65"/>
<rect x="174.20" y="224.3" width="7.60" height="86.1" fill="#FFFF9E" stroke="#000" stroke-width="0.65"/>
<path d="M32.20 220.5V225.5M30.60 220.5H33.80M30.60 225.5H33.80" stroke="#000" stroke-width="0.75" fill="none"/>
<text transform="translate(32.20 218.40) scale(1.0 1)" font-size="9.3" font-weight="bold" text-anchor="middle" fill="#000" letter-spacing="-0.6" stroke="#000" stroke-width="0.2">a</text>
<path d="M40.20 221.3V226.3M38.60 221.3H41.80M38.60 226.3H41.80" stroke="#000" stroke-width="0.75" fill="none"/>
<text transform="translate(40.20 219.20) scale(1.0 1)" font-size="9.3" font-weight="bold" text-anchor="middle" fill="#000" letter-spacing="-0.6" stroke="#000" stroke-width="0.2">a</text>
<path d="M48.20 222.7V228.3M46.60 222.7H49.80M46.60 228.3H49.80" stroke="#000" stroke-width="0.75" fill="none"/>
<text transform="translate(48.20 220.60) scale(1.0 1)" font-size="9.3" font-weight="bold" text-anchor="middle" fill="#000" letter-spacing="-0.6" stroke="#000" stroke-width="0.2">a</text>
<path d="M61.85 222.3V226.3M60.25 222.3H63.45M60.25 226.3H63.45" stroke="#000" stroke-width="0.75" fill="none"/>
<text transform="translate(61.85 220.20) scale(1.0 1)" font-size="9.3" font-weight="bold" text-anchor="middle" fill="#000" letter-spacing="-0.6" stroke="#000" stroke-width="0.2">a</text>
<path d="M69.85 221.9V226.7M68.25 221.9H71.45M68.25 226.7H71.45" stroke="#000" stroke-width="0.75" fill="none"/>
<text transform="translate(69.85 219.80) scale(1.0 1)" font-size="9.3" font-weight="bold" text-anchor="middle" fill="#000" letter-spacing="-0.6" stroke="#000" stroke-width="0.2">a</text>
<path d="M77.85 221.9V226.7M76.25 221.9H79.45M76.25 226.7H79.45" stroke="#000" stroke-width="0.75" fill="none"/>
<text transform="translate(77.85 219.80) scale(1.0 1)" font-size="9.3" font-weight="bold" text-anchor="middle" fill="#000" letter-spacing="-0.6" stroke="#000" stroke-width="0.2">a</text>
<path d="M91.50 221.0V225.0M89.90 221.0H93.10M89.90 225.0H93.10" stroke="#000" stroke-width="0.75" fill="none"/>
<text transform="translate(91.50 218.90) scale(1.0 1)" font-size="9.3" font-weight="bold" text-anchor="middle" fill="#000" letter-spacing="-0.6" stroke="#000" stroke-width="0.2">a</text>
<path d="M99.50 221.4V226.2M97.90 221.4H101.10M97.90 226.2H101.10" stroke="#000" stroke-width="0.75" fill="none"/>
<text transform="translate(99.50 219.30) scale(1.0 1)" font-size="9.3" font-weight="bold" text-anchor="middle" fill="#000" letter-spacing="-0.6" stroke="#000" stroke-width="0.2">a</text>
<path d="M107.50 223.2V228.4M105.90 223.2H109.10M105.90 228.4H109.10" stroke="#000" stroke-width="0.75" fill="none"/>
<text transform="translate(107.50 221.10) scale(1.0 1)" font-size="9.3" font-weight="bold" text-anchor="middle" fill="#000" letter-spacing="-0.6" stroke="#000" stroke-width="0.2">a</text>
<path d="M121.15 220.1V225.9M119.55 220.1H122.75M119.55 225.9H122.75" stroke="#000" stroke-width="0.75" fill="none"/>
<text transform="translate(121.15 218.00) scale(1.0 1)" font-size="9.3" font-weight="bold" text-anchor="middle" fill="#000" letter-spacing="-0.6" stroke="#000" stroke-width="0.2">a</text>
<path d="M129.15 223.0V227.0M127.55 223.0H130.75M127.55 227.0H130.75" stroke="#000" stroke-width="0.75" fill="none"/>
<text transform="translate(129.15 220.90) scale(1.0 1)" font-size="9.3" font-weight="bold" text-anchor="middle" fill="#000" letter-spacing="-0.6" stroke="#000" stroke-width="0.2">a</text>
<path d="M137.15 223.0V227.0M135.55 223.0H138.75M135.55 227.0H138.75" stroke="#000" stroke-width="0.75" fill="none"/>
<text transform="translate(137.15 220.90) scale(1.0 1)" font-size="9.3" font-weight="bold" text-anchor="middle" fill="#000" letter-spacing="-0.6" stroke="#000" stroke-width="0.2">a</text>
<path d="M150.80 221.8V226.2M149.20 221.8H152.40M149.20 226.2H152.40" stroke="#000" stroke-width="0.75" fill="none"/>
<text transform="translate(150.80 219.70) scale(1.0 1)" font-size="9.3" font-weight="bold" text-anchor="middle" fill="#000" letter-spacing="-0.6" stroke="#000" stroke-width="0.2">a</text>
<path d="M158.80 222.8V227.2M157.20 222.8H160.40M157.20 227.2H160.40" stroke="#000" stroke-width="0.75" fill="none"/>
<text transform="translate(158.80 220.70) scale(1.0 1)" font-size="9.3" font-weight="bold" text-anchor="middle" fill="#000" letter-spacing="-0.6" stroke="#000" stroke-width="0.2">a</text>
<path d="M166.80 220.8V225.2M165.20 220.8H168.40M165.20 225.2H168.40" stroke="#000" stroke-width="0.75" fill="none"/>
<text transform="translate(166.80 218.70) scale(1.0 1)" font-size="9.3" font-weight="bold" text-anchor="middle" fill="#000" letter-spacing="-0.6" stroke="#000" stroke-width="0.2">a</text>
<line x1="25.5" y1="310.9" x2="183.2" y2="310.9" stroke="#000" stroke-width="1.05"/>
<text transform="translate(39.75 322.70) scale(0.91 1)" font-size="9.8" font-weight="bold" text-anchor="middle" fill="#000" stroke="#000" stroke-width="0.3">W0</text>
<text transform="translate(70.40 322.70) scale(0.91 1)" font-size="9.8" font-weight="bold" text-anchor="middle" fill="#000" stroke="#000" stroke-width="0.3">W1</text>
<text transform="translate(98.70 322.70) scale(0.91 1)" font-size="9.8" font-weight="bold" text-anchor="middle" fill="#000" stroke="#000" stroke-width="0.3">W2</text>
<text transform="translate(129.25 322.70) scale(0.91 1)" font-size="9.8" font-weight="bold" text-anchor="middle" fill="#000" stroke="#000" stroke-width="0.3">W3</text>
<text transform="translate(158.05 322.70) scale(0.91 1)" font-size="9.8" font-weight="bold" text-anchor="middle" fill="#000" stroke="#000" stroke-width="0.3">W4</text>
<text transform="translate(178.20 322.70) scale(0.91 1)" font-size="9.8" font-weight="bold" text-anchor="middle" fill="#000" stroke="#000" stroke-width="0.3">CK</text>
<text x="115.8" y="335.7" font-size="16.5" font-weight="bold" text-anchor="middle" fill="#000" stroke="#000" stroke-width="0.2">e</text>
<rect x="240.3" y="168.2" width="99.7" height="15.8" fill="#c6c6c6"/>
<text transform="translate(242.60 179.60) scale(0.9 1)" font-size="10.3" font-weight="bold" text-anchor="start" fill="#111" stroke="#111" stroke-width="0.2">W: **</text>
<text transform="translate(278.80 179.60) scale(0.9 1)" font-size="10.3" font-weight="bold" text-anchor="start" fill="#111" stroke="#111" stroke-width="0.2">F: *</text>
<text transform="translate(307.00 179.60) scale(0.9 1)" font-size="10.3" font-weight="bold" text-anchor="start" fill="#111" stroke="#111" stroke-width="0.2">W×F: *</text>
<rect x="194.60" y="195.7" width="7.88" height="114.7" fill="#FDCB9B" stroke="#000" stroke-width="0.65"/>
<rect x="202.48" y="199.3" width="7.88" height="111.1" fill="#9AD69C" stroke="#000" stroke-width="0.65"/>
<rect x="210.36" y="204.5" width="7.88" height="105.9" fill="#C5B1DA" stroke="#000" stroke-width="0.65"/>
<rect x="224.25" y="196.1" width="7.88" height="114.3" fill="#FDCB9B" stroke="#000" stroke-width="0.65"/>
<rect x="232.13" y="205.1" width="7.88" height="105.3" fill="#9AD69C" stroke="#000" stroke-width="0.65"/>
<rect x="240.01" y="196.8" width="7.88" height="113.6" fill="#C5B1DA" stroke="#000" stroke-width="0.65"/>
<rect x="253.90" y="199.6" width="7.88" height="110.8" fill="#FDCB9B" stroke="#000" stroke-width="0.65"/>
<rect x="261.78" y="202.5" width="7.88" height="107.9" fill="#9AD69C" stroke="#000" stroke-width="0.65"/>
<rect x="269.66" y="206.0" width="7.88" height="104.4" fill="#C5B1DA" stroke="#000" stroke-width="0.65"/>
<rect x="283.55" y="202.8" width="7.88" height="107.6" fill="#FDCB9B" stroke="#000" stroke-width="0.65"/>
<rect x="291.43" y="203.6" width="7.88" height="106.8" fill="#9AD69C" stroke="#000" stroke-width="0.65"/>
<rect x="299.31" y="202.2" width="7.88" height="108.2" fill="#C5B1DA" stroke="#000" stroke-width="0.65"/>
<rect x="313.20" y="206.5" width="7.88" height="103.9" fill="#FDCB9B" stroke="#000" stroke-width="0.65"/>
<rect x="321.08" y="207.8" width="7.88" height="102.6" fill="#9AD69C" stroke="#000" stroke-width="0.65"/>
<rect x="328.96" y="207.8" width="7.88" height="102.6" fill="#C5B1DA" stroke="#000" stroke-width="0.65"/>
<rect x="340.60" y="204.6" width="7.60" height="105.8" fill="#FFFF9E" stroke="#000" stroke-width="0.65"/>
<path d="M198.54 194.1V197.3M196.94 194.1H200.14M196.94 197.3H200.14" stroke="#000" stroke-width="0.75" fill="none"/>
<text transform="translate(198.54 189.10) scale(1.0 1)" font-size="9.3" font-weight="bold" text-anchor="middle" fill="#000" letter-spacing="-0.6" stroke="#000" stroke-width="0.2">a</text>
<path d="M206.42 197.1V201.5M204.82 197.1H208.02M204.82 201.5H208.02" stroke="#000" stroke-width="0.75" fill="none"/>
<text transform="translate(203.92 194.70) scale(1.0 1)" font-size="9.3" font-weight="bold" text-anchor="middle" fill="#000" letter-spacing="-0.6" stroke="#000" stroke-width="0.2">abc</text>
<path d="M214.30 200.4V208.6M212.70 200.4H215.90M212.70 208.6H215.90" stroke="#000" stroke-width="0.75" fill="none"/>
<text transform="translate(214.30 197.00) scale(1.0 1)" font-size="9.3" font-weight="bold" text-anchor="middle" fill="#000" letter-spacing="-0.6" stroke="#000" stroke-width="0.2">cde</text>
<path d="M228.19 194.6V197.6M226.59 194.6H229.79M226.59 197.6H229.79" stroke="#000" stroke-width="0.75" fill="none"/>
<text transform="translate(228.19 192.00) scale(1.0 1)" font-size="9.3" font-weight="bold" text-anchor="middle" fill="#000" letter-spacing="-0.6" stroke="#000" stroke-width="0.2">a</text>
<path d="M236.07 200.9V209.3M234.47 200.9H237.67M234.47 209.3H237.67" stroke="#000" stroke-width="0.75" fill="none"/>
<text transform="translate(233.57 198.30) scale(1.0 1)" font-size="9.3" font-weight="bold" text-anchor="middle" fill="#000" letter-spacing="-0.6" stroke="#000" stroke-width="0.2">cde</text>
<path d="M243.95 194.0V199.6M242.35 194.0H245.55M242.35 199.6H245.55" stroke="#000" stroke-width="0.75" fill="none"/>
<text transform="translate(243.95 191.40) scale(1.0 1)" font-size="9.3" font-weight="bold" text-anchor="middle" fill="#000" letter-spacing="-0.6" stroke="#000" stroke-width="0.2">ab</text>
<path d="M257.84 197.0V202.2M256.24 197.0H259.44M256.24 202.2H259.44" stroke="#000" stroke-width="0.75" fill="none"/>
<text transform="translate(257.84 194.70) scale(1.0 1)" font-size="9.3" font-weight="bold" text-anchor="middle" fill="#000" letter-spacing="-0.6" stroke="#000" stroke-width="0.2">abc</text>
<path d="M265.72 199.1V205.9M264.12 199.1H267.32M264.12 205.9H267.32" stroke="#000" stroke-width="0.75" fill="none"/>
<text transform="translate(265.72 196.50) scale(1.0 1)" font-size="9.3" font-weight="bold" text-anchor="middle" fill="#000" letter-spacing="-0.6" stroke="#000" stroke-width="0.2">bcde</text>
<path d="M273.60 203.0V209.0M272.00 203.0H275.20M272.00 209.0H275.20" stroke="#000" stroke-width="0.75" fill="none"/>
<text transform="translate(273.60 200.40) scale(1.0 1)" font-size="9.3" font-weight="bold" text-anchor="middle" fill="#000" letter-spacing="-0.6" stroke="#000" stroke-width="0.2">de</text>
<path d="M287.49 199.3V206.3M285.89 199.3H289.09M285.89 206.3H289.09" stroke="#000" stroke-width="0.75" fill="none"/>
<text transform="translate(287.49 196.70) scale(1.0 1)" font-size="9.3" font-weight="bold" text-anchor="middle" fill="#000" letter-spacing="-0.6" stroke="#000" stroke-width="0.2">cde</text>
<path d="M295.37 199.6V207.6M293.77 199.6H296.97M293.77 207.6H296.97" stroke="#000" stroke-width="0.75" fill="none"/>
<text transform="translate(295.37 197.00) scale(1.0 1)" font-size="9.3" font-weight="bold" text-anchor="middle" fill="#000" letter-spacing="-0.6" stroke="#000" stroke-width="0.2">cdef</text>
<path d="M303.25 200.2V204.2M301.65 200.2H304.85M301.65 204.2H304.85" stroke="#000" stroke-width="0.75" fill="none"/>
<text transform="translate(303.25 197.60) scale(1.0 1)" font-size="9.3" font-weight="bold" text-anchor="middle" fill="#000" letter-spacing="-0.6" stroke="#000" stroke-width="0.2">bcd</text>
<path d="M317.14 203.0V210.0M315.54 203.0H318.74M315.54 210.0H318.74" stroke="#000" stroke-width="0.75" fill="none"/>
<text transform="translate(316.14 199.20) scale(1.0 1)" font-size="9.3" font-weight="bold" text-anchor="middle" fill="#000" letter-spacing="-0.6" stroke="#000" stroke-width="0.2">de</text>
<path d="M325.02 204.8V210.8M323.42 204.8H326.62M323.42 210.8H326.62" stroke="#000" stroke-width="0.75" fill="none"/>
<text transform="translate(325.02 202.20) scale(1.0 1)" font-size="9.3" font-weight="bold" text-anchor="middle" fill="#000" letter-spacing="-0.6" stroke="#000" stroke-width="0.2">e</text>
<path d="M332.90 204.8V210.8M331.30 204.8H334.50M331.30 210.8H334.50" stroke="#000" stroke-width="0.75" fill="none"/>
<text transform="translate(332.90 202.20) scale(1.0 1)" font-size="9.3" font-weight="bold" text-anchor="middle" fill="#000" letter-spacing="-0.6" stroke="#000" stroke-width="0.2">e</text>
<line x1="191.9" y1="310.9" x2="349.6" y2="310.9" stroke="#000" stroke-width="1.05"/>
<text transform="translate(205.27 322.70) scale(0.91 1)" font-size="9.8" font-weight="bold" text-anchor="middle" fill="#000" stroke="#000" stroke-width="0.3">W0</text>
<text transform="translate(235.92 322.70) scale(0.91 1)" font-size="9.8" font-weight="bold" text-anchor="middle" fill="#000" stroke="#000" stroke-width="0.3">W1</text>
<text transform="translate(264.22 322.70) scale(0.91 1)" font-size="9.8" font-weight="bold" text-anchor="middle" fill="#000" stroke="#000" stroke-width="0.3">W2</text>
<text transform="translate(294.77 322.70) scale(0.91 1)" font-size="9.8" font-weight="bold" text-anchor="middle" fill="#000" stroke="#000" stroke-width="0.3">W3</text>
<text transform="translate(323.57 322.70) scale(0.91 1)" font-size="9.8" font-weight="bold" text-anchor="middle" fill="#000" stroke="#000" stroke-width="0.3">W4</text>
<text transform="translate(344.60 322.70) scale(0.91 1)" font-size="9.8" font-weight="bold" text-anchor="middle" fill="#000" stroke="#000" stroke-width="0.3">CK</text>
<text x="280.0" y="335.7" font-size="16.5" font-weight="bold" text-anchor="middle" fill="#000" stroke="#000" stroke-width="0.2">f</text>
<rect x="384.2" y="168.2" width="107.2" height="15.8" fill="#c6c6c6"/>
<text transform="translate(386.50 179.60) scale(0.9 1)" font-size="10.3" font-weight="bold" text-anchor="start" fill="#111" stroke="#111" stroke-width="0.2">W: **</text>
<text transform="translate(422.70 179.60) scale(0.9 1)" font-size="10.3" font-weight="bold" text-anchor="start" fill="#111" stroke="#111" stroke-width="0.2">F:</text>
<text transform="translate(437.00 179.60) scale(0.9 1)" font-size="10.3" font-weight="bold" text-anchor="start" fill="#111" stroke="#111" stroke-width="0.2">*</text>
<text transform="translate(453.70 179.60) scale(0.9 1)" font-size="10.3" font-weight="bold" text-anchor="start" fill="#111" stroke="#111" stroke-width="0.2">W×F: **</text>
<rect x="360.60" y="209.9" width="7.95" height="100.5" fill="#FDCB9B" stroke="#000" stroke-width="0.65"/>
<rect x="368.55" y="211.6" width="7.95" height="98.8" fill="#9AD69C" stroke="#000" stroke-width="0.65"/>
<rect x="376.50" y="218.8" width="7.95" height="91.6" fill="#C5B1DA" stroke="#000" stroke-width="0.65"/>
<rect x="390.25" y="211.5" width="7.95" height="98.9" fill="#FDCB9B" stroke="#000" stroke-width="0.65"/>
<rect x="398.20" y="221.6" width="7.95" height="88.8" fill="#9AD69C" stroke="#000" stroke-width="0.65"/>
<rect x="406.15" y="211.7" width="7.95" height="98.7" fill="#C5B1DA" stroke="#000" stroke-width="0.65"/>
<rect x="419.90" y="213.8" width="7.95" height="96.6" fill="#FDCB9B" stroke="#000" stroke-width="0.65"/>
<rect x="427.85" y="215.1" width="7.95" height="95.3" fill="#9AD69C" stroke="#000" stroke-width="0.65"/>
<rect x="435.80" y="223.6" width="7.95" height="86.8" fill="#C5B1DA" stroke="#000" stroke-width="0.65"/>
<rect x="449.55" y="215.8" width="7.95" height="94.6" fill="#FDCB9B" stroke="#000" stroke-width="0.65"/>
<rect x="457.50" y="217.5" width="7.95" height="92.9" fill="#9AD69C" stroke="#000" stroke-width="0.65"/>
<rect x="465.45" y="214.5" width="7.95" height="95.9" fill="#C5B1DA" stroke="#000" stroke-width="0.65"/>
<rect x="479.20" y="224.1" width="7.95" height="86.3" fill="#FDCB9B" stroke="#000" stroke-width="0.65"/>
<rect x="487.15" y="224.3" width="7.95" height="86.1" fill="#9AD69C" stroke="#000" stroke-width="0.65"/>
<rect x="495.10" y="224.3" width="7.95" height="86.1" fill="#C5B1DA" stroke="#000" stroke-width="0.65"/>
<rect x="506.60" y="217.9" width="7.60" height="92.5" fill="#FFFF9E" stroke="#000" stroke-width="0.65"/>
<path d="M364.58 207.1V212.7M362.98 207.1H366.18M362.98 212.7H366.18" stroke="#000" stroke-width="0.75" fill="none"/>
<text transform="translate(364.58 203.60) scale(1.0 1)" font-size="9.3" font-weight="bold" text-anchor="middle" fill="#000" letter-spacing="-0.6" stroke="#000" stroke-width="0.2">a</text>
<path d="M372.53 210.1V213.1M370.93 210.1H374.13M370.93 213.1H374.13" stroke="#000" stroke-width="0.75" fill="none"/>
<text transform="translate(372.53 206.10) scale(1.0 1)" font-size="9.3" font-weight="bold" text-anchor="middle" fill="#000" letter-spacing="-0.6" stroke="#000" stroke-width="0.2">abc</text>
<path d="M380.48 214.1V223.5M378.88 214.1H382.08M378.88 223.5H382.08" stroke="#000" stroke-width="0.75" fill="none"/>
<text transform="translate(380.48 211.70) scale(1.0 1)" font-size="9.3" font-weight="bold" text-anchor="middle" fill="#000" letter-spacing="-0.6" stroke="#000" stroke-width="0.2">def</text>
<path d="M394.23 210.0V213.0M392.62 210.0H395.83M392.62 213.0H395.83" stroke="#000" stroke-width="0.75" fill="none"/>
<text transform="translate(394.23 205.90) scale(1.0 1)" font-size="9.3" font-weight="bold" text-anchor="middle" fill="#000" letter-spacing="-0.6" stroke="#000" stroke-width="0.2">ab</text>
<path d="M402.18 217.2V226.0M400.57 217.2H403.78M400.57 226.0H403.78" stroke="#000" stroke-width="0.75" fill="none"/>
<text transform="translate(402.18 214.60) scale(1.0 1)" font-size="9.3" font-weight="bold" text-anchor="middle" fill="#000" letter-spacing="-0.6" stroke="#000" stroke-width="0.2">efg</text>
<path d="M410.12 208.9V214.5M408.52 208.9H411.73M408.52 214.5H411.73" stroke="#000" stroke-width="0.75" fill="none"/>
<text transform="translate(410.12 205.70) scale(1.0 1)" font-size="9.3" font-weight="bold" text-anchor="middle" fill="#000" letter-spacing="-0.6" stroke="#000" stroke-width="0.2">abc</text>
<path d="M423.88 211.8V215.8M422.28 211.8H425.48M422.28 215.8H425.48" stroke="#000" stroke-width="0.75" fill="none"/>
<text transform="translate(423.88 208.40) scale(1.0 1)" font-size="9.3" font-weight="bold" text-anchor="middle" fill="#000" letter-spacing="-0.6" stroke="#000" stroke-width="0.2">abc</text>
<path d="M431.83 211.1V219.1M430.23 211.1H433.43M430.23 219.1H433.43" stroke="#000" stroke-width="0.75" fill="none"/>
<text transform="translate(431.83 208.40) scale(1.0 1)" font-size="9.3" font-weight="bold" text-anchor="middle" fill="#000" letter-spacing="-0.6" stroke="#000" stroke-width="0.2">bcd</text>
<path d="M439.78 220.8V226.4M438.18 220.8H441.38M438.18 226.4H441.38" stroke="#000" stroke-width="0.75" fill="none"/>
<text transform="translate(439.78 218.20) scale(1.0 1)" font-size="9.3" font-weight="bold" text-anchor="middle" fill="#000" letter-spacing="-0.6" stroke="#000" stroke-width="0.2">fg</text>
<path d="M453.53 212.3V219.3M451.93 212.3H455.13M451.93 219.3H455.13" stroke="#000" stroke-width="0.75" fill="none"/>
<text transform="translate(453.53 209.70) scale(1.0 1)" font-size="9.3" font-weight="bold" text-anchor="middle" fill="#000" letter-spacing="-0.6" stroke="#000" stroke-width="0.2">bcd</text>
<path d="M461.48 213.5V221.5M459.88 213.5H463.08M459.88 221.5H463.08" stroke="#000" stroke-width="0.75" fill="none"/>
<text transform="translate(461.48 210.90) scale(1.0 1)" font-size="9.3" font-weight="bold" text-anchor="middle" fill="#000" letter-spacing="-0.6" stroke="#000" stroke-width="0.2">cde</text>
<path d="M469.43 212.5V216.5M467.82 212.5H471.03M467.82 216.5H471.03" stroke="#000" stroke-width="0.75" fill="none"/>
<text transform="translate(469.43 209.90) scale(1.0 1)" font-size="9.3" font-weight="bold" text-anchor="middle" fill="#000" letter-spacing="-0.6" stroke="#000" stroke-width="0.2">bcd</text>
<path d="M483.18 221.1V227.1M481.58 221.1H484.78M481.58 227.1H484.78" stroke="#000" stroke-width="0.75" fill="none"/>
<text transform="translate(483.18 218.50) scale(1.0 1)" font-size="9.3" font-weight="bold" text-anchor="middle" fill="#000" letter-spacing="-0.6" stroke="#000" stroke-width="0.2">fg</text>
<path d="M491.13 221.8V226.8M489.53 221.8H492.73M489.53 226.8H492.73" stroke="#000" stroke-width="0.75" fill="none"/>
<text transform="translate(491.13 219.20) scale(1.0 1)" font-size="9.3" font-weight="bold" text-anchor="middle" fill="#000" letter-spacing="-0.6" stroke="#000" stroke-width="0.2">g</text>
<path d="M499.08 221.8V226.8M497.48 221.8H500.68M497.48 226.8H500.68" stroke="#000" stroke-width="0.75" fill="none"/>
<text transform="translate(499.08 219.20) scale(1.0 1)" font-size="9.3" font-weight="bold" text-anchor="middle" fill="#000" letter-spacing="-0.6" stroke="#000" stroke-width="0.2">g</text>
<line x1="357.9" y1="310.9" x2="515.6" y2="310.9" stroke="#000" stroke-width="1.05"/>
<text transform="translate(371.78 322.70) scale(0.91 1)" font-size="9.8" font-weight="bold" text-anchor="middle" fill="#000" stroke="#000" stroke-width="0.3">W0</text>
<text transform="translate(402.43 322.70) scale(0.91 1)" font-size="9.8" font-weight="bold" text-anchor="middle" fill="#000" stroke="#000" stroke-width="0.3">W1</text>
<text transform="translate(430.73 322.70) scale(0.91 1)" font-size="9.8" font-weight="bold" text-anchor="middle" fill="#000" stroke="#000" stroke-width="0.3">W2</text>
<text transform="translate(461.28 322.70) scale(0.91 1)" font-size="9.8" font-weight="bold" text-anchor="middle" fill="#000" stroke="#000" stroke-width="0.3">W3</text>
<text transform="translate(490.08 322.70) scale(0.91 1)" font-size="9.8" font-weight="bold" text-anchor="middle" fill="#000" stroke="#000" stroke-width="0.3">W4</text>
<text transform="translate(510.60 322.70) scale(0.91 1)" font-size="9.8" font-weight="bold" text-anchor="middle" fill="#000" stroke="#000" stroke-width="0.3">CK</text>
<text x="448.4" y="335.7" font-size="16.5" font-weight="bold" text-anchor="middle" fill="#000" stroke="#000" stroke-width="0.2">g</text>
<rect x="546.0" y="168.2" width="111.2" height="15.8" fill="#c6c6c6"/>
<text transform="translate(548.50 179.60) scale(0.9 1)" font-size="10.3" font-weight="bold" text-anchor="start" fill="#111" stroke="#111" stroke-width="0.2">W:</text>
<text transform="translate(565.50 179.60) scale(0.9 1)" font-size="10.3" font-weight="bold" text-anchor="start" fill="#111" stroke="#111" stroke-width="0.2">**</text>
<text transform="translate(587.00 179.60) scale(0.9 1)" font-size="10.3" font-weight="bold" text-anchor="start" fill="#111" stroke="#111" stroke-width="0.2">F: **</text>
<text transform="translate(620.50 179.60) scale(0.9 1)" font-size="10.3" font-weight="bold" text-anchor="start" fill="#111" stroke="#111" stroke-width="0.2">W×F: **</text>
<rect x="526.80" y="201.7" width="7.80" height="108.7" fill="#FDCB9B" stroke="#000" stroke-width="0.65"/>
<rect x="534.60" y="203.5" width="7.80" height="106.9" fill="#9AD69C" stroke="#000" stroke-width="0.65"/>
<rect x="542.40" y="208.3" width="7.80" height="102.1" fill="#C5B1DA" stroke="#000" stroke-width="0.65"/>
<rect x="556.45" y="202.3" width="7.80" height="108.1" fill="#FDCB9B" stroke="#000" stroke-width="0.65"/>
<rect x="564.25" y="210.6" width="7.80" height="99.8" fill="#9AD69C" stroke="#000" stroke-width="0.65"/>
<rect x="572.05" y="203.5" width="7.80" height="106.9" fill="#C5B1DA" stroke="#000" stroke-width="0.65"/>
<rect x="586.10" y="204.5" width="7.80" height="105.9" fill="#FDCB9B" stroke="#000" stroke-width="0.65"/>
<rect x="593.90" y="206.9" width="7.80" height="103.5" fill="#9AD69C" stroke="#000" stroke-width="0.65"/>
<rect x="601.70" y="212.6" width="7.80" height="97.8" fill="#C5B1DA" stroke="#000" stroke-width="0.65"/>
<rect x="615.75" y="206.6" width="7.80" height="103.8" fill="#FDCB9B" stroke="#000" stroke-width="0.65"/>
<rect x="623.55" y="208.3" width="7.80" height="102.1" fill="#9AD69C" stroke="#000" stroke-width="0.65"/>
<rect x="631.35" y="205.7" width="7.80" height="104.7" fill="#C5B1DA" stroke="#000" stroke-width="0.65"/>
<rect x="645.40" y="216.4" width="7.80" height="94.0" fill="#FDCB9B" stroke="#000" stroke-width="0.65"/>
<rect x="653.20" y="219.5" width="7.80" height="90.9" fill="#9AD69C" stroke="#000" stroke-width="0.65"/>
<rect x="661.00" y="217.5" width="7.80" height="92.9" fill="#C5B1DA" stroke="#000" stroke-width="0.65"/>
<rect x="672.80" y="209.0" width="7.60" height="101.4" fill="#FFFF9E" stroke="#000" stroke-width="0.65"/>
<path d="M530.70 199.2V204.2M529.10 199.2H532.30M529.10 204.2H532.30" stroke="#000" stroke-width="0.75" fill="none"/>
<text transform="translate(530.70 195.40) scale(1.0 1)" font-size="9.3" font-weight="bold" text-anchor="middle" fill="#000" letter-spacing="-0.6" stroke="#000" stroke-width="0.2">a</text>
<path d="M538.50 202.0V205.0M536.90 202.0H540.10M536.90 205.0H540.10" stroke="#000" stroke-width="0.75" fill="none"/>
<text transform="translate(538.50 199.40) scale(1.0 1)" font-size="9.3" font-weight="bold" text-anchor="middle" fill="#000" letter-spacing="-0.6" stroke="#000" stroke-width="0.2">abc</text>
<path d="M546.30 203.5V213.1M544.70 203.5H547.90M544.70 213.1H547.90" stroke="#000" stroke-width="0.75" fill="none"/>
<text transform="translate(546.30 200.90) scale(1.0 1)" font-size="9.3" font-weight="bold" text-anchor="middle" fill="#000" letter-spacing="-0.6" stroke="#000" stroke-width="0.2">cde</text>
<path d="M560.35 200.8V203.8M558.75 200.8H561.95M558.75 203.8H561.95" stroke="#000" stroke-width="0.75" fill="none"/>
<text transform="translate(560.35 197.30) scale(1.0 1)" font-size="9.3" font-weight="bold" text-anchor="middle" fill="#000" letter-spacing="-0.6" stroke="#000" stroke-width="0.2">ab</text>
<path d="M568.15 205.5V215.7M566.55 205.5H569.75M566.55 215.7H569.75" stroke="#000" stroke-width="0.75" fill="none"/>
<text transform="translate(568.15 201.90) scale(1.0 1)" font-size="9.3" font-weight="bold" text-anchor="middle" fill="#000" letter-spacing="-0.6" stroke="#000" stroke-width="0.2">de</text>
<path d="M575.95 200.7V206.3M574.35 200.7H577.55M574.35 206.3H577.55" stroke="#000" stroke-width="0.75" fill="none"/>
<text transform="translate(575.95 197.30) scale(1.0 1)" font-size="9.3" font-weight="bold" text-anchor="middle" fill="#000" letter-spacing="-0.6" stroke="#000" stroke-width="0.2">abc</text>
<path d="M590.00 202.5V206.5M588.40 202.5H591.60M588.40 206.5H591.60" stroke="#000" stroke-width="0.75" fill="none"/>
<text transform="translate(590.00 199.80) scale(1.0 1)" font-size="9.3" font-weight="bold" text-anchor="middle" fill="#000" letter-spacing="-0.6" stroke="#000" stroke-width="0.2">abcd</text>
<path d="M597.80 203.4V210.4M596.20 203.4H599.40M596.20 210.4H599.40" stroke="#000" stroke-width="0.75" fill="none"/>
<text transform="translate(599.30 199.80) scale(1.0 1)" font-size="9.3" font-weight="bold" text-anchor="middle" fill="#000" letter-spacing="-0.6" stroke="#000" stroke-width="0.2">bcdef</text>
<path d="M605.60 210.0V215.2M604.00 210.0H607.20M604.00 215.2H607.20" stroke="#000" stroke-width="0.75" fill="none"/>
<text transform="translate(605.60 206.30) scale(1.0 1)" font-size="9.3" font-weight="bold" text-anchor="middle" fill="#000" letter-spacing="-0.6" stroke="#000" stroke-width="0.2">ef</text>
<path d="M619.65 203.2V210.0M618.05 203.2H621.25M618.05 210.0H621.25" stroke="#000" stroke-width="0.75" fill="none"/>
<text transform="translate(617.65 200.20) scale(1.0 1)" font-size="9.3" font-weight="bold" text-anchor="middle" fill="#000" letter-spacing="-0.6" stroke="#000" stroke-width="0.2">abcd</text>
<path d="M627.45 204.1V212.5M625.85 204.1H629.05M625.85 212.5H629.05" stroke="#000" stroke-width="0.75" fill="none"/>
<text transform="translate(627.45 200.20) scale(1.0 1)" font-size="9.3" font-weight="bold" text-anchor="middle" fill="#000" letter-spacing="-0.6" stroke="#000" stroke-width="0.2">bcd</text>
<path d="M635.25 203.0V208.4M633.65 203.0H636.85M633.65 208.4H636.85" stroke="#000" stroke-width="0.75" fill="none"/>
<text transform="translate(635.25 200.20) scale(1.0 1)" font-size="9.3" font-weight="bold" text-anchor="middle" fill="#000" letter-spacing="-0.6" stroke="#000" stroke-width="0.2">abcd</text>
<path d="M649.30 213.4V219.4M647.70 213.4H650.90M647.70 219.4H650.90" stroke="#000" stroke-width="0.75" fill="none"/>
<text transform="translate(649.30 209.20) scale(1.0 1)" font-size="9.3" font-weight="bold" text-anchor="middle" fill="#000" letter-spacing="-0.6" stroke="#000" stroke-width="0.2">fg</text>
<path d="M657.10 217.5V221.5M655.50 217.5H658.70M655.50 221.5H658.70" stroke="#000" stroke-width="0.75" fill="none"/>
<text transform="translate(655.60 214.00) scale(1.0 1)" font-size="9.3" font-weight="bold" text-anchor="middle" fill="#000" letter-spacing="-0.6" stroke="#000" stroke-width="0.2">fg</text>
<path d="M664.90 215.0V220.0M663.30 215.0H666.50M663.30 220.0H666.50" stroke="#000" stroke-width="0.75" fill="none"/>
<text transform="translate(664.90 212.20) scale(1.0 1)" font-size="9.3" font-weight="bold" text-anchor="middle" fill="#000" letter-spacing="-0.6" stroke="#000" stroke-width="0.2">g</text>
<line x1="524.1" y1="310.9" x2="681.8" y2="310.9" stroke="#000" stroke-width="1.05"/>
<text transform="translate(537.75 322.70) scale(0.91 1)" font-size="9.8" font-weight="bold" text-anchor="middle" fill="#000" stroke="#000" stroke-width="0.3">W0</text>
<text transform="translate(568.40 322.70) scale(0.91 1)" font-size="9.8" font-weight="bold" text-anchor="middle" fill="#000" stroke="#000" stroke-width="0.3">W1</text>
<text transform="translate(596.70 322.70) scale(0.91 1)" font-size="9.8" font-weight="bold" text-anchor="middle" fill="#000" stroke="#000" stroke-width="0.3">W2</text>
<text transform="translate(627.25 322.70) scale(0.91 1)" font-size="9.8" font-weight="bold" text-anchor="middle" fill="#000" stroke="#000" stroke-width="0.3">W3</text>
<text transform="translate(656.05 322.70) scale(0.91 1)" font-size="9.8" font-weight="bold" text-anchor="middle" fill="#000" stroke="#000" stroke-width="0.3">W4</text>
<text transform="translate(676.80 322.70) scale(0.91 1)" font-size="9.8" font-weight="bold" text-anchor="middle" fill="#000" stroke="#000" stroke-width="0.3">CK</text>
<text x="612.0" y="335.7" font-size="16.5" font-weight="bold" text-anchor="middle" fill="#000" stroke="#000" stroke-width="0.2">h</text>
<line x1="25.5" y1="3.6" x2="25.5" y2="141.4" stroke="#000" stroke-width="0.9"/>
<line x1="25.5" y1="4.0" x2="29" y2="4.0" stroke="#000" stroke-width="0.8"/>
<text transform="translate(22.30 7.00) scale(0.93 1)" font-size="10.2" font-weight="bold" text-anchor="end" fill="#000" stroke="#000" stroke-width="0.3">80</text>
<line x1="25.5" y1="38.2" x2="29" y2="38.2" stroke="#000" stroke-width="0.8"/>
<text transform="translate(22.30 41.23) scale(0.93 1)" font-size="10.2" font-weight="bold" text-anchor="end" fill="#000" stroke="#000" stroke-width="0.3">60</text>
<line x1="25.5" y1="72.5" x2="29" y2="72.5" stroke="#000" stroke-width="0.8"/>
<text transform="translate(22.30 75.45) scale(0.93 1)" font-size="10.2" font-weight="bold" text-anchor="end" fill="#000" stroke="#000" stroke-width="0.3">40</text>
<line x1="25.5" y1="106.7" x2="29" y2="106.7" stroke="#000" stroke-width="0.8"/>
<text transform="translate(22.30 109.68) scale(0.93 1)" font-size="10.2" font-weight="bold" text-anchor="end" fill="#000" stroke="#000" stroke-width="0.3">20</text>
<line x1="25.5" y1="140.9" x2="29" y2="140.9" stroke="#000" stroke-width="0.8"/>
<text transform="translate(22.30 143.90) scale(0.93 1)" font-size="10.2" font-weight="bold" text-anchor="end" fill="#000" stroke="#000" stroke-width="0.3">0</text>
<text transform="translate(6.6 74.5) rotate(-90)" font-size="11.7" font-weight="bold" text-anchor="middle" fill="#000" textLength="100.6" lengthAdjust="spacingAndGlyphs" stroke="#000" stroke-width="0.3">Chlorophyll (SPAD)</text>
<line x1="25.5" y1="173.3" x2="25.5" y2="311.2" stroke="#000" stroke-width="0.9"/>
<line x1="25.5" y1="173.7" x2="29" y2="173.7" stroke="#000" stroke-width="0.8"/>
<text transform="translate(22.30 176.70) scale(0.93 1)" font-size="10.2" font-weight="bold" text-anchor="end" fill="#000" stroke="#000" stroke-width="0.3">80</text>
<line x1="25.5" y1="207.9" x2="29" y2="207.9" stroke="#000" stroke-width="0.8"/>
<text transform="translate(22.30 210.95) scale(0.93 1)" font-size="10.2" font-weight="bold" text-anchor="end" fill="#000" stroke="#000" stroke-width="0.3">60</text>
<line x1="25.5" y1="242.2" x2="29" y2="242.2" stroke="#000" stroke-width="0.8"/>
<text transform="translate(22.30 245.20) scale(0.93 1)" font-size="10.2" font-weight="bold" text-anchor="end" fill="#000" stroke="#000" stroke-width="0.3">40</text>
<line x1="25.5" y1="276.4" x2="29" y2="276.4" stroke="#000" stroke-width="0.8"/>
<text transform="translate(22.30 279.45) scale(0.93 1)" font-size="10.2" font-weight="bold" text-anchor="end" fill="#000" stroke="#000" stroke-width="0.3">20</text>
<line x1="25.5" y1="310.7" x2="29" y2="310.7" stroke="#000" stroke-width="0.8"/>
<text transform="translate(22.30 313.70) scale(0.93 1)" font-size="10.2" font-weight="bold" text-anchor="end" fill="#000" stroke="#000" stroke-width="0.3">0</text>
<text transform="translate(6.6 244.2) rotate(-90)" font-size="11.7" font-weight="bold" text-anchor="middle" fill="#000" textLength="100.6" lengthAdjust="spacingAndGlyphs" stroke="#000" stroke-width="0.3">Chlorophyll (SPAD)</text>
<rect x="240.0" y="339.9" width="16.4" height="5.3" fill="#FDCB9B" stroke="#000" stroke-width="0.5"/>
<text transform="translate(259.00 345.00) scale(0.94 1)" font-size="10.3" font-weight="normal" text-anchor="start" fill="#000" stroke="#000" stroke-width="0.3">FH</text>
<rect x="291.8" y="339.9" width="16.4" height="5.3" fill="#9AD69C" stroke="#000" stroke-width="0.5"/>
<text transform="translate(311.00 345.00) scale(0.94 1)" font-size="10.3" font-weight="normal" text-anchor="start" fill="#000" stroke="#000" stroke-width="0.3">FM</text>
<rect x="344.5" y="339.9" width="16.4" height="5.3" fill="#C5B1DA" stroke="#000" stroke-width="0.5"/>
<text transform="translate(363.70 345.00) scale(0.94 1)" font-size="10.3" font-weight="normal" text-anchor="start" fill="#000" stroke="#000" stroke-width="0.3">FL</text>
<rect x="394.5" y="339.9" width="16.4" height="5.3" fill="#FFFF9E" stroke="#000" stroke-width="0.5"/>
<text transform="translate(414.00 345.00) scale(0.94 1)" font-size="10.3" font-weight="normal" text-anchor="start" fill="#000" stroke="#000" stroke-width="0.3">CK</text>
<text x="103.2" y="358.6" font-size="12.2" font-weight="bold" text-anchor="middle" fill="#000" stroke="#000" stroke-width="0.3" textLength="134.5" lengthAdjust="spacingAndGlyphs">Spring branch growth period</text>
<text x="270.7" y="358.6" font-size="12.2" font-weight="bold" text-anchor="middle" fill="#000" stroke="#000" stroke-width="0.3" textLength="155.4" lengthAdjust="spacingAndGlyphs">Flowering and fruit setting period</text>
<text x="442.9" y="358.6" font-size="12.2" font-weight="bold" text-anchor="middle" fill="#000" stroke="#000" stroke-width="0.3" textLength="96.8" lengthAdjust="spacingAndGlyphs">Fruit ripening period</text>
<text x="608.0" y="358.6" font-size="12.2" font-weight="bold" text-anchor="middle" fill="#000" stroke="#000" stroke-width="0.3" textLength="85.0" lengthAdjust="spacingAndGlyphs">Defoliation period</text>
</svg>
</body></html>
